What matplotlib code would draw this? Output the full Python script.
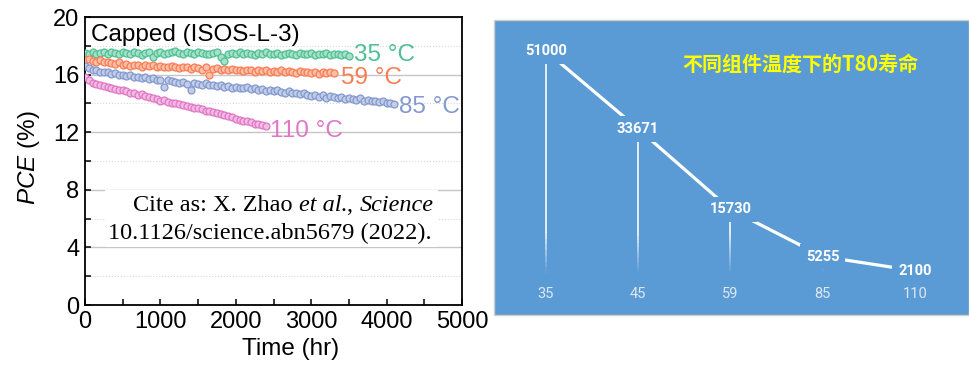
import numpy as np
import matplotlib.pyplot as plt
from matplotlib.patches import Rectangle
from matplotlib.collections import LineCollection
from matplotlib.colors import to_rgb

plt.rcParams['mathtext.fontset'] = 'custom'
plt.rcParams['mathtext.sf'] = 'Liberation Sans:italic'
plt.rcParams['font.family'] = ['Liberation Sans', 'DejaVu Sans']

# ---- left panel: PCE vs time (capped, ISOS-L-3) ----
hours = [0, 50, 100, 150, 200, 250, 300, 350, 400, 450,
         500, 550, 600, 650, 700, 750, 800, 850, 900, 950,
         1000, 1050, 1100, 1150, 1200, 1250, 1300, 1350, 1400, 1450,
         1500, 1550, 1600, 1650, 1700, 1750, 1800, 1850, 1900, 1950,
         2000, 2050, 2100, 2150, 2200, 2250, 2300, 2350, 2400, 2450,
         2500, 2550, 2600, 2650, 2700, 2750, 2800, 2850, 2900, 2950,
         3000, 3050, 3100, 3150, 3200, 3250, 3300, 3350, 3400, 3450,
         3500, 3550, 3600, 3650, 3700, 3750, 3800, 3850, 3900, 3950,
         4000, 4050, 4100]

pce_35 = [17.5, 17.45, 17.55, 17.4, 17.5, 17.55, 17.45, 17.6, 17.5, 17.4,
          17.55, 17.5, 17.45, 17.6, 17.5, 17.35, 17.5, 17.55, 17.2, 17.5,
          17.6, 17.45, 17.5, 17.55, 17.65, 17.5, 17.45, 17.55, 17.5, 17.4,
          17.55, 17.5, 17.45, 17.4, 17.5, 17.55, 17.2, 16.95, 17.4, 17.5,
          17.45, 17.55, 17.4, 17.5, 17.45, 17.35, 17.5, 17.4, 17.55, 17.45,
          17.4, 17.5, 17.35, 17.45, 17.5, 17.4, 17.35, 17.5, 17.45, 17.4,
          17.5, 17.35, 17.45, 17.4, 17.5, 17.35, 17.45, 17.4, 17.35, 17.45,
          17.3]
pce_59 = [17.0, 17.05, 16.95, 16.9, 17.0, 16.85, 16.9, 16.8, 16.75, 16.85,
          16.7, 16.75, 16.6, 16.7, 16.65, 16.55, 16.7, 16.6, 16.65, 16.5,
          16.6, 16.55, 16.5, 16.6, 16.5, 16.45, 16.55, 16.5, 16.4, 16.5,
          16.45, 16.35, 16.5, 15.95, 16.4, 16.45, 16.35, 16.4, 16.3, 16.4,
          16.3, 16.35, 16.25, 16.35, 16.3, 16.2, 16.3, 16.25, 16.35, 16.2,
          16.25, 16.2, 16.3, 16.15, 16.25, 16.2, 16.1, 16.25, 16.15, 16.2,
          16.1, 16.2, 16.05, 16.15, 16.1, 16.15, 16.1]
pce_85 = [16.6, 16.45, 16.3, 16.35, 16.2, 16.15, 16.2, 16.05, 16.1, 15.95,
          16.0, 15.9, 15.95, 15.8, 15.85, 15.75, 15.8, 15.7, 15.75, 15.6,
          15.65, 15.15, 15.6, 15.55, 15.5, 15.45, 15.5, 15.35, 14.95, 15.4,
          15.35, 15.3, 15.4, 15.25, 15.3, 15.2, 15.3, 15.15, 15.2, 15.1,
          15.15, 15.1, 15.05, 15.15, 15.0, 15.05, 14.95, 15.0, 14.85, 14.95,
          14.85, 14.9, 14.8, 14.75, 14.85, 14.7, 14.75, 14.65, 14.7, 14.6,
          14.5, 14.6, 14.45, 14.55, 14.4, 14.5, 14.45, 14.35, 14.45, 14.3,
          14.35, 14.3, 14.25, 14.35, 14.2, 14.25, 14.15, 14.2, 14.1, 14.15,
          14.05, 14.0, 13.95]
pce_110 = [15.8, 15.6, 15.45, 15.35, 15.3, 15.2, 15.15, 15.05, 15.0, 14.95,
           14.9, 14.85, 14.75, 14.7, 14.6, 14.65, 14.5, 14.45, 14.35, 14.3,
           14.2, 14.25, 14.1, 14.05, 14.0, 13.95, 13.9, 13.85, 13.75, 13.7,
           13.65, 13.6, 13.5, 13.45, 13.4, 13.3, 13.25, 13.2, 13.15, 13.05,
           12.95, 12.85, 12.8, 12.75, 12.7, 12.6, 12.55, 12.5, 12.4]

series = [
    ('35 °C', pce_35, '#4fc092', (3570, 17.35)),
    ('59 °C', pce_59, '#fa7d52', (3390, 15.75)),
    ('85 °C', pce_85, '#8399cf', (4160, 13.75)),
    ('110 °C', pce_110, '#e276c6', (2460, 12.1)),
]

# ---- right panel: T80 lifetime vs module temperature ----
temps = ['35', '45', '59', '85', '110']
t80 = [51000, 33671, 15730, 5255, 2100]

fig = plt.figure(figsize=(9.7, 3.68), dpi=100)

ax = fig.add_axes([85 / 970, 63 / 368, 377 / 970, 288 / 368])
for name, vals, col, (lx, ly) in series:
    light = tuple(0.5 * c + 0.5 for c in to_rgb(col))
    ax.plot(hours[:len(vals)], vals, 'o', ls='none', ms=5.0, mfc=light,
            mec=col, mew=0.9, zorder=3)
    ax.text(lx, ly, name, color=col, fontsize=17.5, ha='left', va='center')

ax.set_xlim(0, 5000)
ax.set_ylim(0, 20)
ax.set_xticks(range(0, 5001, 1000))
ax.set_xticks(range(500, 5000, 1000), minor=True)
ax.set_yticks(range(0, 21, 4))
ax.set_yticks(range(2, 20, 4), minor=True)
ax.set_axisbelow(True)
ax.grid(axis='y', which='major', color='#c6c6c6', lw=1)
ax.grid(axis='y', which='minor', color='#d8d8d8', lw=0.8, ls=':')
ax.tick_params(which='both', direction='in', length=4, width=1.1)
ax.tick_params(labelsize=17, pad=4)
for s in ax.spines.values():
    s.set_linewidth(1.3)

ax.set_xlabel('Time (hr)', fontsize=17.5)
ax.xaxis.set_label_coords(0.545, -0.115)
ax.set_ylabel(r'$\mathsf{PCE}$ (%)', fontsize=17.5)
ax.yaxis.set_label_coords(-0.115, 0.51)

ax.text(80, 18.75, 'Capped (ISOS-L-3)', fontsize=17.5, ha='left', va='center')

# citation box
ax.add_patch(Rectangle((0.053, 0.2025), 0.883, 0.1985, transform=ax.transAxes,
                       fc='white', ec='none', zorder=2))
serif = dict(fontsize=17.5, family='Liberation Serif', zorder=4)
c1 = ax.text(0.127, 0.347, 'Cite as: X. Zhao ', transform=ax.transAxes,
             ha='left', va='center', **serif)
c2 = ax.annotate('et al.', xy=(1, 0), xycoords=c1, ha='left', va='bottom',
                 style='italic', **serif)
c3 = ax.annotate(', ', xy=(1, 0), xycoords=c2, ha='left', va='bottom', **serif)
ax.annotate('Science', xy=(1, 0), xycoords=c3, ha='left', va='bottom',
            style='italic', **serif)
ax.text(0.92, 0.25, '10.1126/science.abn5679 (2022).',
        transform=ax.transAxes, ha='right', va='center', **serif)

# right panel
blue = '#5b9bd5'
fig.add_artist(Rectangle((494 / 970, 53 / 368), 475 / 970, 295 / 368,
                         transform=fig.transFigure, fc=blue, ec='#cfcfcf',
                         lw=1, zorder=0))

ax2 = fig.add_axes([499.5 / 970, 95 / 368, 461.7 / 970, 240.3 / 368])
ax2.set_facecolor('none')
for s in ax2.spines.values():
    s.set_visible(False)
ax2.set_xlim(-0.5, 4.5)
base = 1600
ax2.set_ylim(base, 55000)
xpos = np.arange(len(temps))

ax2.plot(xpos, t80, color='white', lw=2.3, solid_capstyle='butt', zorder=2)

# drop lines, fading out towards the bottom
segs, cols = [], []
for xi, v in zip(xpos, t80):
    ys = np.linspace(base, v, 40)
    for a, b in zip(ys[:-1], ys[1:]):
        segs.append([(xi, a), (xi, b)])
        alpha = 0.9 * min(1.0, ((a + b) / 2 - base) / 9000)
        cols.append((1, 1, 1, alpha))
ax2.add_collection(LineCollection(segs, colors=cols, linewidths=1.3, zorder=1))

narrow = ['Roboto', 'DejaVu Sans']
for xi, v in zip(xpos, t80):
    ax2.text(xi, v, str(v), ha='center', va='center', color='white',
             fontsize=10.5, fontweight='bold', family=narrow, zorder=4,
             bbox=dict(boxstyle='square,pad=0.4', fc=blue, ec='none'))

ax2.set_xticks(xpos, temps)
ax2.set_yticks([])
ax2.tick_params(length=0, labelsize=10.5, labelcolor='#dde7f3', pad=10)
for lab in ax2.get_xticklabels():
    lab.set_family(narrow)

fig.text(800.5 / 970, 1 - 64 / 368, '不同组件温度下的T80寿命', ha='center',
         va='center', color='#ffff00', fontsize=14.4, fontweight='bold',
         family=['Noto Sans CJK SC', 'DejaVu Sans'])

fig.savefig('out.png', dpi=100)
